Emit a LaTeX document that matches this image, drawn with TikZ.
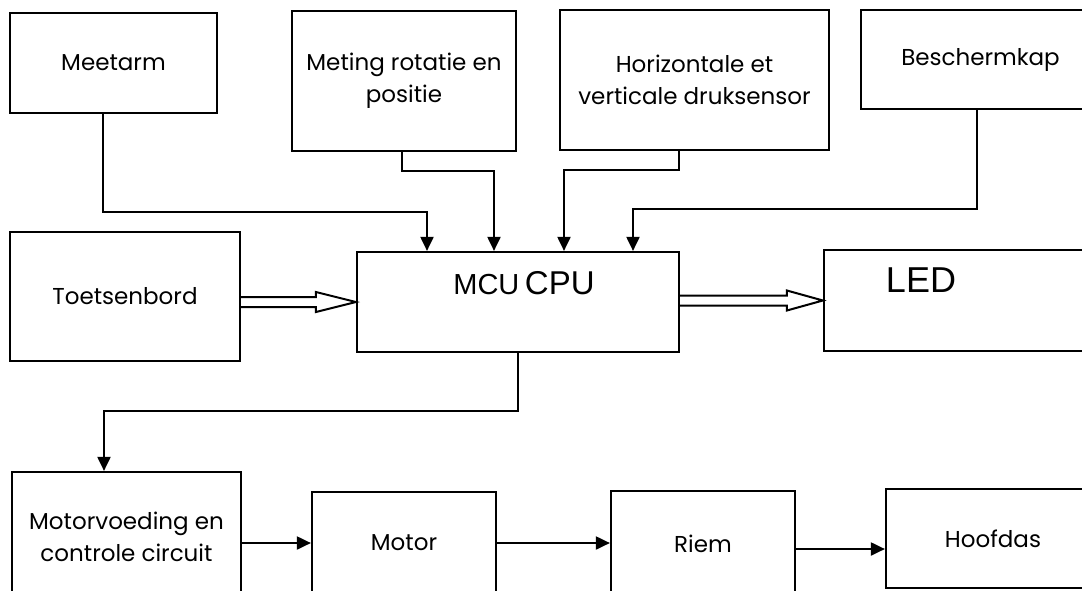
\documentclass[tikz,border=0pt]{standalone}
\usepackage{fontspec}
\setmainfont{Poppins}
\newfontfamily\arialfont{Liberation Sans}
\usetikzlibrary{calc}
\usetikzlibrary{arrows.meta}

\tikzset{
  blok/.style={draw, line width=1.1pt, align=center, inner sep=2pt,
    font=\fontsize{11.5}{16}\selectfont},
  pijl/.style={line width=1pt, -{Triangle[length=7pt,width=6.5pt]}},
  dubbel/.style={line width=1pt, line join=miter},
}
% hollow double arrow from #1 to the west side of #2, head length #3
\newcommand{\dubbelpijl}[3]{
  \draw[dubbel] ($(#1.east |- #2.west)+(0pt,2.5pt)$)
    -- ($(#2.west)+(-#3,2.5pt)$) -- ($(#2.west)+(-#3,5pt)$)
    -- (#2.west)
    -- ($(#2.west)+(-#3,-5pt)$) -- ($(#2.west)+(-#3,-2.5pt)$)
    -- ($(#1.east |- #2.west)+(0pt,-2.5pt)$);
}

\begin{document}
\begin{tikzpicture}[x=0.5pt,y=-0.5pt]
    \useasboundingbox (0,0) rectangle (1082,590);
    \clip (0,0) rectangle (1082,590);

    % Sensors on top
    \node[blok, minimum width=103.5pt, minimum height=50pt] (meetarm) at (113.5,63) {Meetarm};
    \node[blok, minimum width=112pt, minimum height=70pt] (meting) at (404,81) {Meting rotatie en\\positie};
    \node[blok, minimum width=134.5pt, minimum height=70pt] (druk) at (694.5,80) {Horizontale et\\verticale druksensor};
    \node[blok, minimum width=119.5pt, minimum height=49.5pt] (kap) at (980.5,59.5) {Beschermkap};

    % Middle row
    \node[blok, minimum width=115pt, minimum height=64.5pt] (toets) at (125,296.5) {Toetsenbord};
    \node[blok, minimum width=161pt, minimum height=50pt,
      label={[font=\arialfont, xshift=3pt, yshift=9.5pt]center:{\fontsize{14.5}{16}\selectfont MCU} {\fontsize{16.5}{18}\selectfont CPU}}] (mcu) at (518,302) {};
    \node[blok, minimum width=138pt, minimum height=50.5pt,
      label={[font=\arialfont\fontsize{18}{20}\selectfont, xshift=-20.5pt, yshift=10pt]center:LED}] (led) at (962,300.5) {};

    % Drive chain
    \node[blok, minimum width=114.5pt, minimum height=65pt] (motorv) at (126.5,537) {Motorvoeding en\\controle circuit};
    \node[blok, minimum width=92pt, minimum height=51pt] (motor) at (404,543) {Motor};
    \node[blok, minimum width=92pt, minimum height=52.5pt] (riem) at (703,543.5) {Riem};
    \node[blok, minimum width=107pt, minimum height=49.5pt] (hoofdas) at (993,538.5) {Hoofdas};

    % Sensor inputs to the CPU
    \draw[pijl] ([xshift=-5.25pt]meetarm.south) |- ([xshift=-45.5pt,yshift=19.5pt]mcu.north) -- ([xshift=-45.5pt]mcu.north);
    \draw[pijl] ([xshift=-1pt]meting.south) |- ([xshift=-12pt,yshift=40pt]mcu.north) -- ([xshift=-12pt]mcu.north);
    \draw[pijl] ([xshift=-7.75pt]druk.south) |- ([xshift=23pt,yshift=40.5pt]mcu.north) -- ([xshift=23pt]mcu.north);
    \draw[pijl] ([xshift=-1.75pt]kap.south) |- ([xshift=57.5pt,yshift=21pt]mcu.north) -- ([xshift=57.5pt]mcu.north);

    % Keyboard in, LED out
    \dubbelpijl{toets}{mcu}{20pt}
    \dubbelpijl{mcu}{led}{18pt}

    % CPU to the drive chain
    \draw[pijl] (mcu.south) |- ([xshift=-11.25pt,yshift=30pt]motorv.north) -- ([xshift=-11.25pt]motorv.north);
    \draw[pijl] (motorv.east |- motor.west) -- (motor.west);
    \draw[pijl] (motor.east) -- (motor.east -| riem.west);
    \draw[pijl] ([yshift=-2.75pt]riem.east) -- ([yshift=-2.75pt]riem.east -| hoofdas.west);
\end{tikzpicture}
\end{document}
